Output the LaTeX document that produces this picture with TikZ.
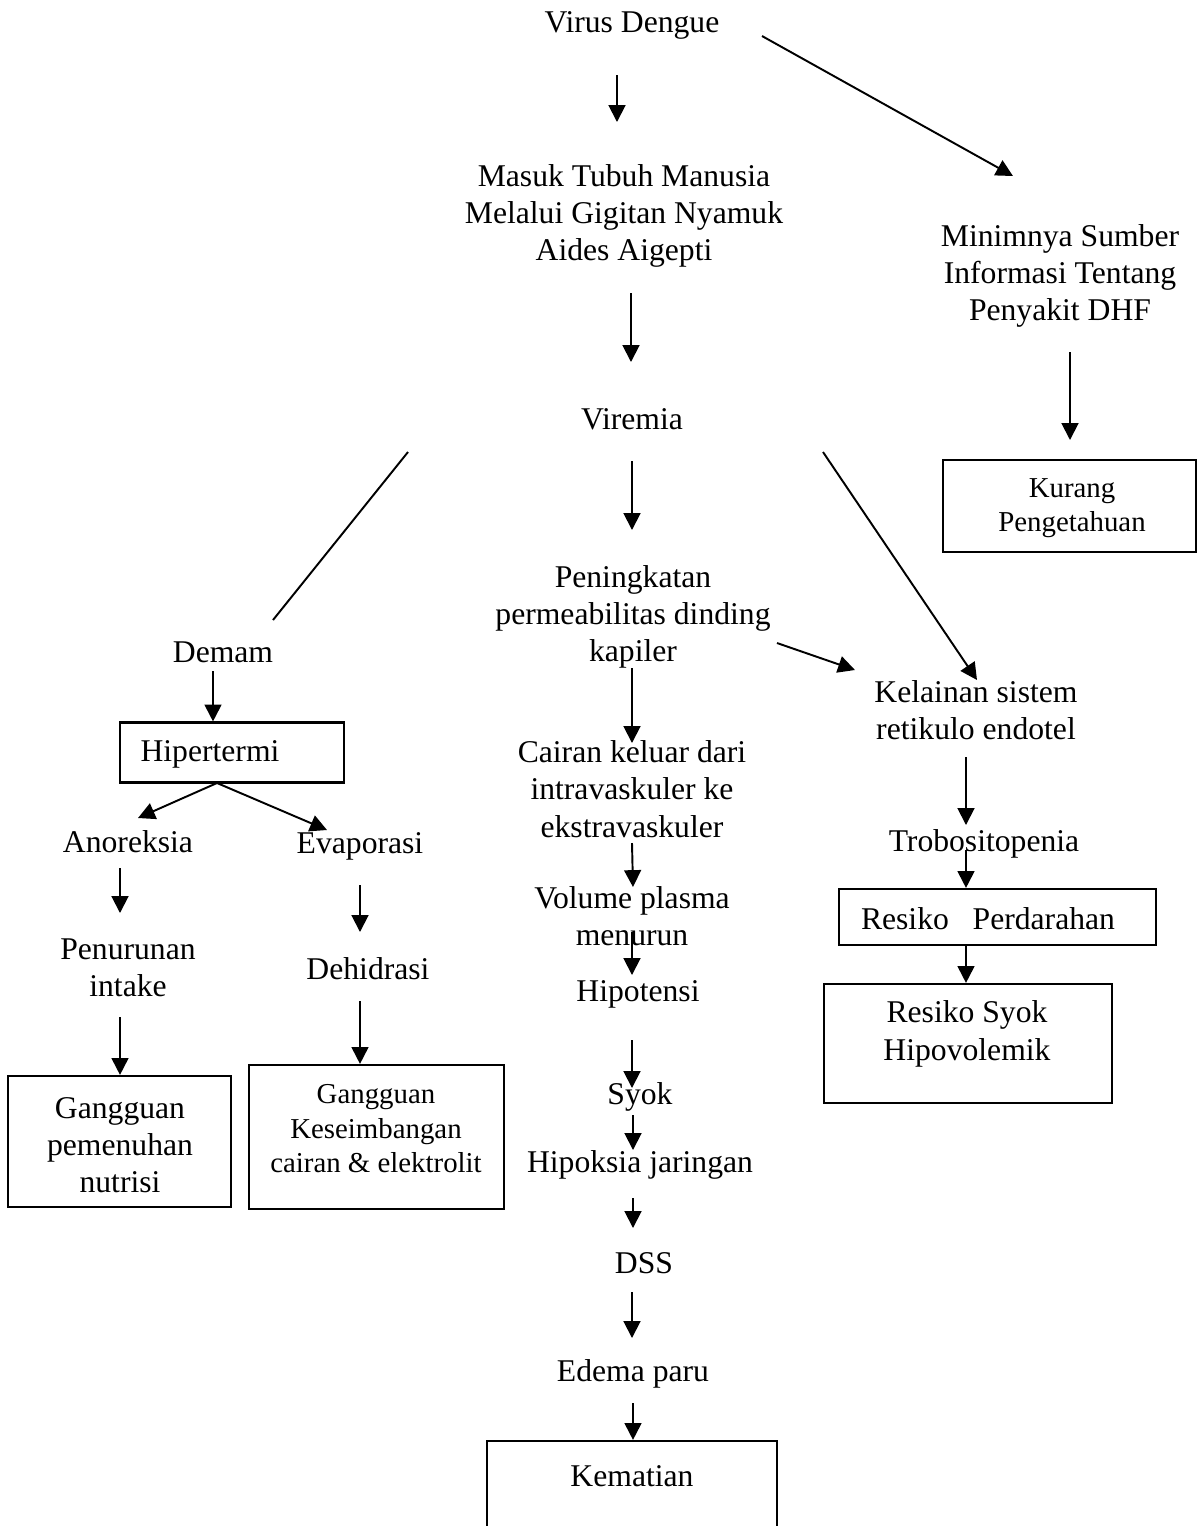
\documentclass[tikz,border=0pt]{standalone}
\usepackage{fontspec}
\setmainfont{Liberation Serif}
\usetikzlibrary{arrows.meta}

\tikzset{
  txt/.style={inner sep=0pt,align=center,font=\fontsize{9}{10.6}\selectfont},
  kecil/.style={inner sep=0pt,align=center,font=\fontsize{8.2}{9.8}\selectfont},
  box/.style={draw,line width=0.6pt,inner sep=0pt},
  arr/.style={->,line width=0.55pt},
}

\begin{document}
\begin{tikzpicture}[x=0.01cm,y=-0.01cm,>={Triangle[length=4.8pt,width=4.8pt]}]
  \useasboundingbox (0,0) rectangle (1198,1526);
  \clip (0,0) rectangle (1198,1526);

  % boxes
  \node[box,minimum width=2.53cm,minimum height=0.92cm] (kurangbox) at (1069.5,506) {};
  \node[box,minimum width=2.24cm,minimum height=0.60cm] (hipbox) at (232,752.5) {};
  \node[box,minimum width=2.23cm,minimum height=1.31cm] (nutrisibox) at (119.5,1141.5) {};
  \node[box,minimum width=2.55cm,minimum height=1.44cm] (cairanbox) at (376.5,1137) {};
  \node[box,minimum width=3.17cm,minimum height=0.56cm] (perdbox) at (997.5,917) {};
  \node[box,minimum width=2.88cm,minimum height=1.19cm] (syokbox) at (968,1043.5) {};
  \node[box,minimum width=2.90cm,minimum height=1.20cm] (matibox) at (632,1501) {};

  % texts
  \node[txt] (virus) at (632,25) {Virus Dengue};
  \node[txt] (masuk) at (624,216) {Masuk Tubuh Manusia\\Melalui Gigitan Nyamuk\\Aides Aigepti};
  \node[txt] (minim) at (1060,276) {Minimnya Sumber\\Informasi Tentang\\Penyakit DHF};
  \node[kecil] (kurang) at (1072,508) {Kurang\\Pengetahuan};
  \node[txt] (viremia) at (632,419) {Viremia};
  \node[txt] (pening) at (633,617) {Peningkatan\\permeabilitas dinding\\kapiler};
  \node[txt] (demam) at (223,652) {Demam};
  \node[txt] (hiper) at (210,754) {Hipertermi};
  \node[txt] (anor) at (128,842) {Anoreksia};
  \node[txt] (evap) at (360,846) {Evaporasi};
  \node[txt] (penurun) at (128,968) {Penurunan\\intake};
  \node[txt] (dehid) at (368,969) {Dehidrasi};
  \node[txt] (nutrisi) at (120,1145) {Gangguan\\pemenuhan\\nutrisi};
  \node[kecil] (cairan) at (376,1129) {Gangguan\\Keseimbangan\\cairan \& elektrolit};
  \node[txt] (keluar) at (632,789) {Cairan keluar dari\\intravaskuler ke\\ekstravaskuler};
  \node[txt] (volume) at (632,916) {Volume plasma\\menurun};
  \node[txt] (hipot) at (638,994) {Hipotensi};
  \node[txt] (syok) at (640,1097) {Syok};
  \node[txt] (hipoks) at (640,1165) {Hipoksia jaringan};
  \node[txt] (dss) at (644,1263) {DSS};
  \node[txt] (edema) at (633,1374) {Edema paru};
  \node[txt] (mati) at (632,1476) {Kematian};
  \node[txt] (kelainan) at (976,710) {Kelainan sistem\\retikulo endotel};
  \node[txt] (trobo) at (984,844) {Trobositopenia};
  \node[txt] (perd) at (988,919) {Resiko~~~Perdarahan};
  \node[txt] (risyok) at (967,1034) {Resiko Syok\\Hipovolemik};

  % arrow ends
  \coordinate (n0) at (617,75);
  \coordinate (n1) at (617,122);
  \coordinate (n2) at (631,293);
  \coordinate (n3) at (631,362);
  \coordinate (n4) at (632,461);
  \coordinate (n5) at (632,530);
  \coordinate (n6) at (762,36);
  \coordinate (n7) at (1013,176);
  \coordinate (n8) at (1070,352);
  \coordinate (n9) at (1070,440);
  \coordinate (n10) at (408,452);
  \coordinate (n11) at (273,620);
  \coordinate (n12) at (823,452);
  \coordinate (n13) at (977,680);
  \coordinate (n14) at (777,643);
  \coordinate (n15) at (855,670);
  \coordinate (n16) at (213,671);
  \coordinate (n17) at (217,783);
  \coordinate (n18) at (138,818);
  \coordinate (n19) at (327,830);
  \coordinate (n20) at (120,868);
  \coordinate (n21) at (120,913);
  \coordinate (n22) at (120,1017);
  \coordinate (n23) at (360,885);
  \coordinate (n24) at (360,932);
  \coordinate (n25) at (360,1001);
  \coordinate (n26) at (632,668);
  \coordinate (n27) at (632,743);
  \coordinate (n28) at (632,843);
  \coordinate (n29) at (633,887);
  \coordinate (n30) at (632,932);
  \coordinate (n31) at (632,975);
  \coordinate (n32) at (632,1040);
  \coordinate (n33) at (632,1088);
  \coordinate (n34) at (633,1115);
  \coordinate (n35) at (633,1150);
  \coordinate (n36) at (633,1198);
  \coordinate (n37) at (633,1228);
  \coordinate (n38) at (632,1292);
  \coordinate (n39) at (632,1338);
  \coordinate (n40) at (633,1403);
  \coordinate (n41) at (966,757);
  \coordinate (n42) at (966,825);
  \coordinate (n43) at (966,850);

  \draw[arr] (n0) -- (n1);
  \draw[arr] (n2) -- (n3);
  \draw[arr] (n4) -- (n5);
  \draw[arr] (n6) -- (n7);
  \draw[arr] (n8) -- (n9);
  \draw[line width=0.55pt] (n10) -- (n11);
  \draw[arr] (n12) -- (n13);
  \draw[arr] (n14) -- (n15);

  \draw[arr] (n16) -- (n16 |- hipbox.north);
  \draw[arr] (n17) -- (n18);
  \draw[arr] (n17) -- (n19);
  \draw[arr] (n20) -- (n21);
  \draw[arr] (n22) -- (n22 |- nutrisibox.north);
  \draw[arr] (n23) -- (n24);
  \draw[arr] (n25) -- (n25 |- cairanbox.north);

  \draw[arr] (n26) -- (n27);
  \draw[arr] (n28) -- (n29);
  \draw[arr] (n30) -- (n31);
  \draw[arr] (n32) -- (n33);
  \draw[arr] (n34) -- (n35);
  \draw[arr] (n36) -- (n37);
  \draw[arr] (n38) -- (n39);
  \draw[arr] (n40) -- (n40 |- matibox.north);

  \draw[arr] (n41) -- (n42);
  \draw[arr] (n43) -- (n43 |- perdbox.north);
  \draw[arr] (n43 |- perdbox.south) -- (n43 |- syokbox.north);

\end{tikzpicture}
\end{document}
